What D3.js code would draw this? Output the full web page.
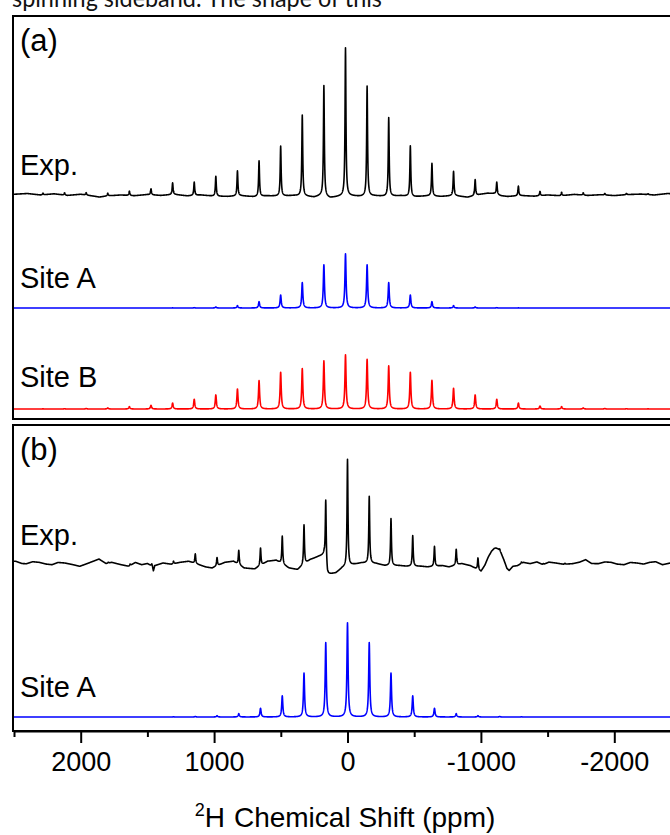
<!DOCTYPE html>
<html><head><meta charset="utf-8">
<script src="https://cdn.jsdelivr.net/npm/d3@7"></script>
<style>
html,body{margin:0;padding:0;background:#fff;}
svg{display:block;}
</style></head>
<body>
<svg id="chart" width="670" height="835"></svg>
<script>
// ---------------- data ----------------
// spinning sideband orders, left (high ppm) to right
const sidebandOrders = [14,13,12,11,10,9,8,7,6,5,4,3,2,1,0,-1,-2,-3,-4,-5,-6,-7,-8,-9,-10,-11,-12,-13,-14];

// peak heights, % of the centre band of each trace
const expA_heights   = [1.1,1.6,1.6,1.8,2.9,4.0,7.9,9.0,13.5,16.9,24.1,33.8,54.7,74.8,100,74.3,53.2,34.2,22.1,16.4,10.8,8.3,6.5,2.9,2.3,1.6,1.0,0.8,0.6];
const siteA_a_heights= [0,0,0,0,0,0,0.2,0.6,1.9,4.3,11.7,24,47,80,100,80,47,24,11.7,4.3,1.9,0.6,0.2,0,0,0,0,0,0];
const siteB_a_heights= [0.3,0.5,1,2,4.3,6.8,11,18,26,37,52.4,68,74.6,88.9,100,92,79.6,68,53,38.3,26,18,11,5.5,4.3,2,1,0.5,0.3];
const expB_heights   = [0,0,0,0.8,1.5,2,2.5,9,7.8,13.4,16.4,26,37,60,100,62.6,44,28.6,18.7,14.8,11,2,1.5,1,0.8,0,0,0,0];
const siteA_b_heights= [0,0,0,0,0,0,0.2,0.5,1.4,3.5,9.3,22.4,46.6,79,100,79,46.6,22.4,9.3,3.5,1.4,0.5,0.2,0,0,0,0,0,0];

// centre-band shift and sideband spacing (ppm)
const centreA = 15, spacingA = 162;
const centreB = 0,  spacingB = 163;

// experimental baselines: [ppm, offset in % of centre band]
const expA_baseline = [[2500,0.5],[2400,1],[2300,0],[2200,0.8],[2100,-0.3],[2000,0.5],[1900,-0.8],[1860,-1.4],[1800,-0.6],[1700,0],[1600,-0.5],[1500,0.3],[1400,-0.3],[1300,0.4],[1200,-0.6],[1100,0],[1000,-0.8],[900,-1],[800,-0.5],[700,-1.2],[600,-0.6],[500,-0.8],[400,-0.4],[300,-1],[250,-1.5],[200,-0.5],[130,-2],[60,-1],[0,-0.5],[-100,-1],[-200,-0.6],[-300,-1],[-400,-0.5],[-500,-1.2],[-600,-0.6],[-700,-1],[-800,-0.4],[-900,-1.5],[-1000,0.5],[-1050,1.2],[-1100,1],[-1150,-0.5],[-1200,-1],[-1300,-0.4],[-1400,-0.8],[-1500,0],[-1600,-0.5],[-1700,0.4],[-1800,-0.3],[-1900,0.2],[-2000,-0.4],[-2100,0.3],[-2200,0.6],[-2300,0],[-2400,1],[-2500,0.5]];
const expB_baseline = [[2500,1.6],[2487,1.6],[2440,-0.5],[2407,-0.7],[2360,1.2],[2311,0.6],[2260,-1],[2215,-1.6],[2170,0.5],[2119,0],[2060,-1.5],[2007,-3.1],[1940,0],[1863,3.7],[1810,-0.5],[1767,0.6],[1700,-1.5],[1639,-3.1],[1590,0.5],[1543,-1.6],[1500,-0.5],[1463,-3.1],[1455,-7.5],[1445,-2.5],[1383,0],[1320,-1.2],[1255,0.6],[1191,1.6],[1063,-3.7],[1015,-4.7],[919,0.6],[855,1.6],[775,-4.7],[695,-5.6],[599,1.6],[535,2.5],[439,-4.7],[375,-6.2],[279,3.1],[215,6.2],[175,7.5],[150,-11],[87,-9.3],[39,-4.7],[-41,-1.6],[-105,0],[-217,-0.6],[-281,-2.5],[-393,-2.5],[-441,-3.1],[-553,-3.1],[-601,-3.7],[-713,-2.5],[-761,-3.7],[-857,-0.6],[-921,-2.5],[-1001,-7.8],[-1030,-2],[-1055,5.5],[-1080,11],[-1100,13.6],[-1113,14],[-1130,13],[-1150,9.5],[-1172,3],[-1195,-5],[-1212,-7],[-1240,-3.1],[-1273,-2.5],[-1320,0.5],[-1369,-0.6],[-1420,1],[-1465,-1.6],[-1510,0.8],[-1561,0],[-1620,-1.2],[-1689,-0.6],[-1740,0.8],[-1785,3.1],[-1830,-0.5],[-1881,-0.6],[-1930,1],[-1977,0.6],[-2020,-1],[-2073,-1.6],[-2120,0.5],[-2169,0],[-2220,-1],[-2265,0.6],[-2310,1.2],[-2361,-1.6],[-2420,0],[-2460,1.2],[-2500,0]];

// axis
const majorTicks = [2000,1000,0,-1000,-2000];
const tickLabels = ["2000","1000","0","-1000","-2000"];
const minorTicks = [2500,1500,500,-500,-1500,-2500];

// texts
const traceLabels = ["Exp.","Site A","Site B","Exp.","Site A"];
const panelLabels = ["(a)","(b)"];

// ---------------- drawing ----------------
const svg = d3.select('#chart');
const FONT = "'Liberation Sans', Arial, Helvetica, sans-serif";

const x = d3.scaleLinear().domain([2500, -2500]).range([14, 681]);

function spectrum(centre, spacing, heights, hwhm, baseline) {
  const base = baseline
    ? d3.scaleLinear().domain(baseline.map(d => d[0])).range(baseline.map(d => d[1])).clamp(true)
    : null;
  const pos = sidebandOrders.map(n => centre + spacing * n);
  const pts = [];
  for (let p = 2500; p >= -2500; p -= 1) {
    let v = base ? base(p) : 0;
    for (let i = 0; i < pos.length; i++) {
      const d = p - pos[i];
      v += heights[i] * hwhm * hwhm / (d * d + hwhm * hwhm);
    }
    pts.push([p, v]);
  }
  return pts;
}

const traces = [
  {data: spectrum(centreA, spacingA, expA_heights, 4, expA_baseline),   base: 195, h: 148, color: '#000000', label: traceLabels[0], ly: 175},
  {data: spectrum(centreA, spacingA, siteA_a_heights, 5, null),          base: 308, h: 54,  color: '#0000ff', label: traceLabels[1], ly: 288},
  {data: spectrum(centreA, spacingA, siteB_a_heights, 5, null),          base: 409, h: 54,  color: '#ff0000', label: traceLabels[2], ly: 387},
  {data: spectrum(centreB, spacingB, expB_heights, 4, expB_baseline),    base: 563, h: 107, color: '#000000', label: traceLabels[3], ly: 545},
  {data: spectrum(centreB, spacingB, siteA_b_heights, 5, null),          base: 717, h: 94,  color: '#0000ff', label: traceLabels[4], ly: 697}
];

// panel frames
svg.append('rect').attr('x', 13).attr('y', 16).attr('width', 720).attr('height', 403)
  .attr('fill', 'none').attr('stroke', '#000').attr('stroke-width', 2);
svg.append('rect').attr('x', 13).attr('y', 425).attr('width', 720).attr('height', 306)
  .attr('fill', 'none').attr('stroke', '#000').attr('stroke-width', 2);

traces.forEach(t => {
  const y = d3.scaleLinear().domain([0, 100]).range([t.base, t.base - t.h]);
  const line = d3.line().x(d => x(d[0])).y(d => y(d[1]));
  svg.append('path').datum(t.data).attr('d', line)
    .attr('fill', 'none').attr('stroke', t.color).attr('stroke-width', 1.6)
    .attr('stroke-linejoin', 'round');
  svg.append('text').attr('x', 20).attr('y', t.ly).text(t.label)
    .attr('font-family', FONT).attr('font-size', 29).attr('fill', '#000');
});

svg.append('text').attr('x', 20).attr('y', 51).text(panelLabels[0])
  .attr('font-family', FONT).attr('font-size', 31).attr('fill', '#000');
svg.append('text').attr('x', 20).attr('y', 460).text(panelLabels[1])
  .attr('font-family', FONT).attr('font-size', 31).attr('fill', '#000');

// axes
const axis = d3.axisBottom(x).tickValues(majorTicks)
  .tickFormat(d => tickLabels[majorTicks.indexOf(d)])
  .tickSize(12).tickSizeOuter(0).tickPadding(9);
const gA = svg.append('g').attr('transform', 'translate(0,731)').call(axis)
  .attr('font-family', FONT).attr('font-size', 27);
gA.select('.domain').attr('stroke', '#000').attr('stroke-width', 2);
gA.selectAll('.tick line').attr('stroke', '#000').attr('stroke-width', 2);
gA.selectAll('.tick text').attr('fill', '#000');

const minor = d3.axisBottom(x).tickValues(minorTicks).tickFormat('').tickSize(6).tickSizeOuter(0);
const gM = svg.append('g').attr('transform', 'translate(0,731)').call(minor);
gM.select('.domain').remove();
gM.selectAll('.tick line').attr('stroke', '#000').attr('stroke-width', 2);

// axis title
const title = svg.append('text').attr('x', 345).attr('y', 827).attr('text-anchor', 'middle')
  .attr('font-family', FONT).attr('font-size', 28).attr('fill', '#000');
title.append('tspan').text('2').attr('font-size', 18).attr('dy', -11);
title.append('tspan').text('H').attr('dy', 11);
title.append('tspan').text('Chemical Shift (ppm)').attr('dx', 9);

// cropped text line at the very top (cut off by the picture's top edge, as in the reference)
svg.append('text').attr('x', 12).attr('y', 7)
  .attr('font-family', "Lato, 'Open Sans', sans-serif").attr('font-size', 25)
  .attr('fill', '#111').attr('textLength', 370).attr('lengthAdjust', 'spacingAndGlyphs')
  .text('spinning sideband. The shape of this');
</script>
</body></html>
